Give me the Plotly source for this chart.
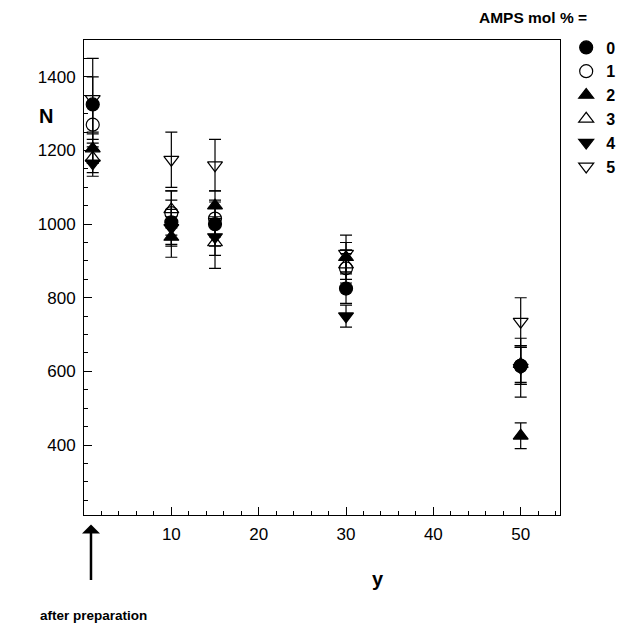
import plotly.graph_objects as go

# Data
days = [1, 10, 15, 30, 50]
series_names = ["0", "1", "2", "3", "4", "5"]
n_0 = [1325, 1005, 1000, 825, 615]
n_1 = [1270, 1030, 1015, 880, 615]
n_2 = [1205, 965, 1050, 910, 425]
n_3 = [1180, 1040, 950, 890, 620]
n_4 = [1165, 990, 965, 750, 610]
n_5 = [1340, 1175, 1160, 920, 735]
err_0 = [75, 60, 60, 40, 50]
err_1 = [60, 60, 50, 40, 50]
err_2 = [40, 55, 40, 40, 35]
err_3 = [40, 50, 70, 40, 50]
err_4 = [35, 50, 50, 30, 80]
err_5 = [110, 75, 70, 50, 65]
symbols = ["circle", "circle-open", "triangle-up", "triangle-up-open",
           "triangle-down", "triangle-down-open"]

values = [n_0, n_1, n_2, n_3, n_4, n_5]
errors = [err_0, err_1, err_2, err_3, err_4, err_5]

FONT = "Liberation Sans, Arial, sans-serif"

fig = go.Figure()
for name, vals, errs, sym in zip(series_names, values, errors, symbols):
    fig.add_trace(go.Scatter(
        x=days, y=vals, mode="markers", name=name,
        marker=dict(symbol=sym, size=13, color="black",
                    line=dict(color="black", width=1.2)),
        error_y=dict(type="data", array=errs, visible=True,
                     color="black", thickness=1.2, width=6),
    ))

fig.update_layout(
    width=632, height=624,
    paper_bgcolor="white", plot_bgcolor="white",
    margin=dict(l=84, r=65, t=40, b=109),
    font=dict(family=FONT, size=17, color="black"),
    legend=dict(x=1.013, y=1.02, xanchor="left", yanchor="top",
                font=dict(family=FONT, size=16, color="black", weight="bold"),
                bgcolor="rgba(0,0,0,0)", itemwidth=30),
    xaxis=dict(range=[0, 54.5], tickvals=[10, 20, 30, 40, 50],
               ticks="inside", ticklen=8, tickwidth=1, tickcolor="black",
               showline=True, linecolor="black", linewidth=1, mirror=True,
               showgrid=False, zeroline=False,
               minor=dict(tick0=0, dtick=2, ticks="inside", ticklen=4,
                          tickcolor="black", showgrid=False),
               tickfont=dict(size=17), ticklabelstandoff=4),
    yaxis=dict(range=[210, 1500], tickvals=[400, 600, 800, 1000, 1200, 1400],
               ticks="inside", ticklen=8, tickwidth=1, tickcolor="black",
               showline=True, linecolor="black", linewidth=1, mirror=True,
               showgrid=False, zeroline=False,
               minor=dict(tick0=0, dtick=50, ticks="inside", ticklen=4,
                          tickcolor="black", showgrid=False),
               tickfont=dict(size=17), ticklabelstandoff=4),
)

fig.add_annotation(text="AMPS mol % =", xref="paper", yref="paper",
                   x=0.944, y=1.048, xanchor="center", yanchor="middle",
                   showarrow=False,
                   font=dict(family=FONT, size=15.5, weight="bold"))
fig.add_annotation(text="N", xref="paper", yref="paper",
                   x=-0.08, y=0.84, xanchor="center", yanchor="middle",
                   showarrow=False,
                   font=dict(family=FONT, size=20, weight="bold"))
fig.add_annotation(text="y", xref="paper", yref="paper",
                   x=0.618, y=-0.135, xanchor="center", yanchor="middle",
                   showarrow=False,
                   font=dict(family=FONT, size=20, weight="bold"))
fig.add_annotation(text="after preparation", xref="paper", yref="paper",
                   x=0.02, y=-0.212, xanchor="center", yanchor="middle",
                   showarrow=False,
                   font=dict(family=FONT, size=13.5, weight="bold"))
fig.add_annotation(x=0.8, y=-0.02, xref="x", yref="paper",
                   ax=0, ay=57, axref="pixel", ayref="pixel",
                   showarrow=True, arrowhead=1, arrowsize=1.2,
                   arrowwidth=2.5, arrowcolor="black", text="")

fig.write_html("out.html", config={"displayModeBar": False},
               post_script="document.body.style.margin='0px';")
